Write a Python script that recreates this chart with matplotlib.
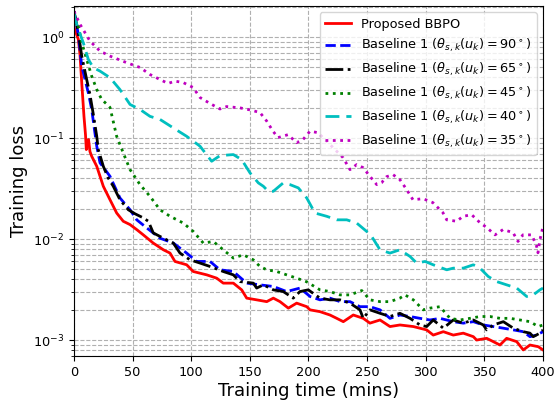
import numpy as np
import matplotlib
matplotlib.use('Agg')
import matplotlib.pyplot as plt

# Values (time in mins, training loss)
t_prop = [0, 3.7, 5.1, 6.6, 8.5, 9.8, 10.5, 11.5, 12.4, 13.6, 15.1, 19.4, 25, 30.7, 36.4, 42, 47.8,
          53.5, 59.1, 67.6, 76.2, 81.9, 86.1, 96.1, 101.7, 113.2, 121.7, 127.3, 135.9, 143, 147.3,
          155.8, 164.4, 170, 175.7, 182.8, 189.9, 198.5, 201.3, 209.8, 218.3, 224.1, 229.7, 238.2,
          246.7, 252.4, 261, 269.5, 278, 289.4, 300.8, 306.4, 315, 323.5, 332, 340.6, 343.4, 352,
          363.3, 369, 377.6, 383.2, 388.9, 396, 400]
loss_prop = [1.25, 0.949, 0.673, 0.353, 0.164, 0.108, 0.0769, 0.0923, 0.0966, 0.0735, 0.066, 0.0525,
             0.0333, 0.0245, 0.0181, 0.015, 0.0139, 0.0124, 0.011, 0.00912, 0.00783, 0.00726, 0.006,
             0.00556, 0.00477, 0.00442, 0.0041, 0.00366, 0.00366, 0.00314, 0.0026, 0.0025, 0.0024,
             0.0026, 0.0024, 0.00207, 0.00232, 0.00214, 0.00199, 0.00191, 0.00177, 0.00164, 0.00152,
             0.00177, 0.00164, 0.00147, 0.00158, 0.00136, 0.00141, 0.00136, 0.00126, 0.00112, 0.00121,
             0.00112, 0.00117, 0.00108, 0.001, 0.00104, 0.000893, 0.00104, 0.000964, 0.000798,
             0.000893, 0.000859, 0.000798]

t_90 = [0, 3.7, 6.6, 12.2, 15.1, 19.4, 22.2, 30.7, 39.2, 47.8, 53.5, 62, 73.3, 84.7, 96.1, 104.6,
        116, 124.5, 135.9, 147.3, 158.6, 170, 181.4, 192.7, 201.3, 209.8, 218.3, 226.9, 235.4,
        243.9, 252.4, 261, 269.5, 278, 286.6, 295.1, 303.6, 312.2, 323.5, 332, 340.6, 349.1, 357.6,
        366.2, 374.7, 383.2, 388.9, 394.6, 400]
loss_90 = [1.8, 1.06, 0.515, 0.281, 0.192, 0.083, 0.0568, 0.0418, 0.0255, 0.0195, 0.0155, 0.0129,
           0.0102, 0.00912, 0.00726, 0.006, 0.006, 0.00496, 0.00477, 0.00366, 0.00352, 0.00339,
           0.00302, 0.00327, 0.0027, 0.0025, 0.0026, 0.0024, 0.0024, 0.00214, 0.00214, 0.00199,
           0.00164, 0.00177, 0.00171, 0.00164, 0.00158, 0.00164, 0.00152, 0.00147, 0.00152, 0.00141,
           0.00136, 0.00131, 0.00126, 0.00121, 0.00108, 0.00112, 0.00121]

t_65 = [0, 3.7, 6.6, 10.8, 13.6, 16.5, 19.4, 20.7, 25, 29, 33.5, 39.2, 46.3, 52, 59.1, 63.4, 67.6,
        76.2, 84.7, 90.4, 98.9, 107.5, 116, 127.3, 135.9, 141.6, 152.9, 155.8, 161.5, 170, 178.5,
        187, 192.7, 199.8, 209.8, 218.3, 226.9, 235.4, 243.9, 246.7, 252.4, 261, 269.5, 278, 286.6,
        295.1, 300.8, 306.4, 315, 323.5, 332, 340.6, 349.1, 352, 357.6, 366.2, 374.7, 383.2, 388.9,
        391.7, 397.4, 400]
loss_65 = [1.8, 1.106, 0.648, 0.38, 0.27, 0.171, 0.104, 0.0769, 0.0525, 0.0406, 0.0333, 0.0245,
           0.0195, 0.0178, 0.0162, 0.015, 0.0115, 0.0102, 0.00912, 0.00726, 0.00623, 0.00578,
           0.00535, 0.00477, 0.00442, 0.00379, 0.00366, 0.00327, 0.00352, 0.00314, 0.00302, 0.0026,
           0.00302, 0.00314, 0.0026, 0.0025, 0.0025, 0.00232, 0.00199, 0.00164, 0.00199, 0.00184,
           0.00171, 0.00184, 0.00164, 0.00141, 0.00136, 0.00158, 0.00131, 0.00158, 0.00147, 0.00158,
           0.00141, 0.00126, 0.00141, 0.00152, 0.00131, 0.00121, 0.00117, 0.00108, 0.00117, 0.00126]

t_45 = [0, 3.7, 6.6, 10.8, 15.1, 19.4, 23.6, 27.3, 30.7, 36.4, 42, 47.8, 56.3, 64.8, 73.3, 81.9,
        93.2, 101.7, 110.3, 118.8, 127.3, 135.9, 144.4, 152.9, 158.6, 164.4, 172.9, 181.4, 189.9,
        198.5, 209.8, 218.3, 226.9, 235.4, 245.4, 252.4, 261, 269.5, 278, 282.3, 289.4, 297.9,
        303.6, 312.2, 320.7, 329.2, 337.7, 346.3, 354.8, 363.3, 371.9, 380.4, 388.9, 396, 400]
loss_45 = [1.8, 1.29, 0.88, 0.601, 0.41, 0.303, 0.241, 0.22, 0.201, 0.104, 0.0713, 0.0487, 0.0346,
           0.0265, 0.0195, 0.0168, 0.0144, 0.0119, 0.00912, 0.00946, 0.00783, 0.00648, 0.00698,
           0.00623, 0.00535, 0.00496, 0.00477, 0.00442, 0.0041, 0.00377, 0.00314, 0.00302, 0.0028,
           0.0028, 0.00309, 0.0025, 0.0024, 0.0024, 0.0026, 0.0028, 0.0025, 0.00199, 0.00207,
           0.00214, 0.00164, 0.00158, 0.00164, 0.00171, 0.00171, 0.00164, 0.00164, 0.00158, 0.00152,
           0.00136, 0.00141]

t_40 = [0, 1, 3.7, 7.9, 12.2, 16.5, 22.2, 30.7, 39.1, 47.8, 56.3, 64.8, 73.3, 84.7, 96.1, 107.5,
        117.4, 124.5, 135.9, 143, 150.1, 157.2, 161.5, 165.7, 170, 178.5, 184.2, 191.3, 198.5,
        205.5, 215.5, 224.1, 232.6, 241.1, 249.6, 253.9, 261, 269.5, 278, 286.6, 292.3, 299.4,
        306.4, 317.9, 323.5, 332, 340.6, 346.3, 353.3, 360.5, 369, 377.6, 386.1, 391.7, 397.4, 400]
loss_40 = [1.76, 1.5, 1.19, 0.88, 0.601, 0.497, 0.46, 0.396, 0.303, 0.215, 0.192, 0.164, 0.153,
           0.126, 0.104, 0.083, 0.0589, 0.067, 0.0686, 0.0612, 0.0452, 0.036, 0.0333, 0.0297,
           0.0297, 0.036, 0.0346, 0.0321, 0.0255, 0.0181, 0.0168, 0.0155, 0.0155, 0.0144, 0.0119,
           0.0106, 0.00783, 0.00726, 0.00783, 0.00672, 0.00578, 0.006, 0.00556, 0.00496, 0.00515,
           0.00515, 0.00556, 0.00515, 0.00426, 0.00379, 0.00352, 0.00327, 0.0027, 0.0028, 0.00314,
           0.00327]

t_35 = [0, 5.1, 13.6, 22.2, 30.7, 45, 56.3, 64.8, 73.3, 80.2, 86.1, 93, 101.5, 107.5, 116, 124.5,
        130.2, 141.6, 150.1, 158.6, 164.4, 169.7, 174, 182.5, 189.9, 195.3, 201.3, 208.1, 215.5,
        220.9, 229.4, 235.4, 241.1, 246.5, 252.4, 258.2, 262.4, 266.7, 272.1, 278, 283.8, 289.1,
        297.7, 306.2, 314.7, 317.9, 326.4, 331.8, 339.2, 346.3, 352, 359.1, 365.9, 374.4, 378.7,
        382.9, 390.4, 394.6, 395.7, 397.4, 400]
loss_35 = [1.8, 1.34, 0.913, 0.726, 0.648, 0.557, 0.5, 0.426, 0.38, 0.347, 0.366, 0.355, 0.317,
           0.252, 0.22, 0.194, 0.205, 0.199, 0.19, 0.179, 0.147, 0.117, 0.101, 0.108, 0.09, 0.0966,
           0.117, 0.113, 0.0929, 0.0805, 0.0641, 0.0487, 0.0546, 0.051, 0.0418, 0.0346, 0.0362,
           0.0415, 0.0434, 0.0387, 0.0308, 0.0245, 0.0251, 0.0229, 0.0182, 0.0155, 0.015, 0.0168,
           0.0174, 0.0145, 0.013, 0.011, 0.0124, 0.0116, 0.00947, 0.011, 0.011, 0.00845, 0.00731,
           0.00984, 0.0133]

fig = plt.figure(figsize=(5.56, 4.0), dpi=100)
ax = fig.add_axes([0.1331, 0.11, 0.8435, 0.875])

ax.semilogy(t_prop, loss_prop, color='red', ls='-', lw=2, label='Proposed BBPO')
ax.semilogy(t_90, loss_90, color='blue', ls='--', lw=2,
            label=r'Baseline 1 ($\theta_{s,k}(u_k) = 90^\circ$)')
ax.semilogy(t_65, loss_65, color='black', ls='-.', lw=2,
            label=r'Baseline 1 ($\theta_{s,k}(u_k) = 65^\circ$)')
ax.semilogy(t_45, loss_45, color='green', ls=':', lw=2,
            label=r'Baseline 1 ($\theta_{s,k}(u_k) = 45^\circ$)')
ax.semilogy(t_40, loss_40, color='c', ls=(0, (5, 2.5)), lw=2,
            label=r'Baseline 1 ($\theta_{s,k}(u_k) = 40^\circ$)')
ax.semilogy(t_35, loss_35, color='m', ls=':', lw=2,
            label=r'Baseline 1 ($\theta_{s,k}(u_k) = 35^\circ$)')

ax.set_xlim(0, 400)
ax.set_ylim(6.95e-4, 2.03)
ax.grid(True, which='both', ls='--')
ax.tick_params(labelsize=9.3)
ax.set_xlabel('Training time (mins)', fontsize=13, labelpad=2)
ax.set_ylabel('Training loss', fontsize=13)
ax.legend(loc='upper right', fontsize=9.3)

fig.savefig('out.png', dpi=100)
